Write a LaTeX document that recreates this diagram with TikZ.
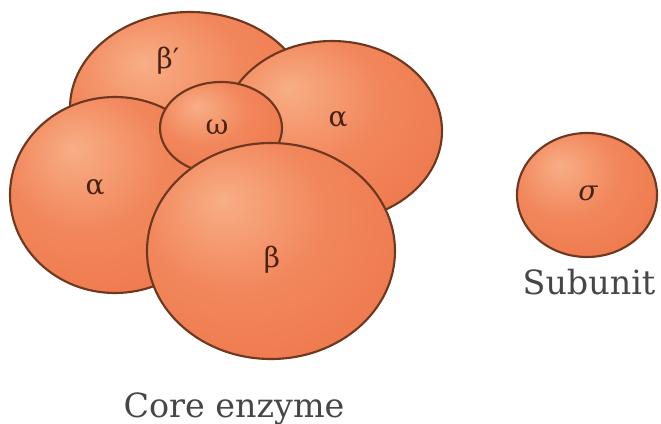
\documentclass[tikz,border=0pt]{standalone}
\usepackage{fontspec}
\setmainfont{DejaVu Serif}
\usetikzlibrary{shapes.geometric}
\definecolor{blobL}{HTML}{F8AE86}
\definecolor{blobM}{HTML}{F2875C}
\definecolor{blobD}{HTML}{EC7144}
\definecolor{blobEdge}{HTML}{6E3820}
\definecolor{lblcol}{HTML}{4A2212}
\definecolor{txtcol}{HTML}{464646}
\pgfdeclareradialshading{blob}{\pgfpoint{-10bp}{12bp}}{color(0bp)=(blobL); color(18bp)=(blobM); color(46bp)=(blobD); color(70bp)=(blobD)}
\tikzset{
  sub/.style={ellipse, inner sep=0pt, draw=blobEdge, line width=1.6pt, shade, shading=blob},
  greek/.style={text=lblcol, font=\fontsize{21}{23}\selectfont, inner sep=0pt},
  caption/.style={text=txtcol, font=\fontsize{25}{28}\selectfont, inner sep=0pt, anchor=base}
}
\begin{document}
\begin{tikzpicture}[x=0.75pt, y=-0.75pt]
\useasboundingbox (0,0) rectangle (661,424);
% back to front
\node[sub, minimum width=180pt, minimum height=144pt] (bp) at (190,108) {};
\node[sub, minimum width=165pt, minimum height=135pt] (ar) at (332,131) {};
\node[sub, minimum width=157.5pt, minimum height=147pt] (al) at (115,195) {};
\node[sub, minimum width=91.5pt, minimum height=69pt] (om) at (221,128) {};
\node[sub, minimum width=186pt, minimum height=162pt] (b) at (271,251) {};
\node[sub, minimum width=105pt, minimum height=93pt] (sg) at (587,195) {};
% labels
\node[greek] (lbp) at (168,61) {β′};
\node[greek] (lar) at (338,120) {α};
\node[greek] (lal) at (95,188) {α};
\node[greek] (lom) at (217,127) {ω};
\node[greek] (lb) at (272,260) {β};
\node[greek] (lsg) at (588,193) {\itshape σ};
\node[caption] (core) at (234,417) {Core enzyme};
\node[caption] (subu) at (589,295) {Subunit};
\end{tikzpicture}
\end{document}
